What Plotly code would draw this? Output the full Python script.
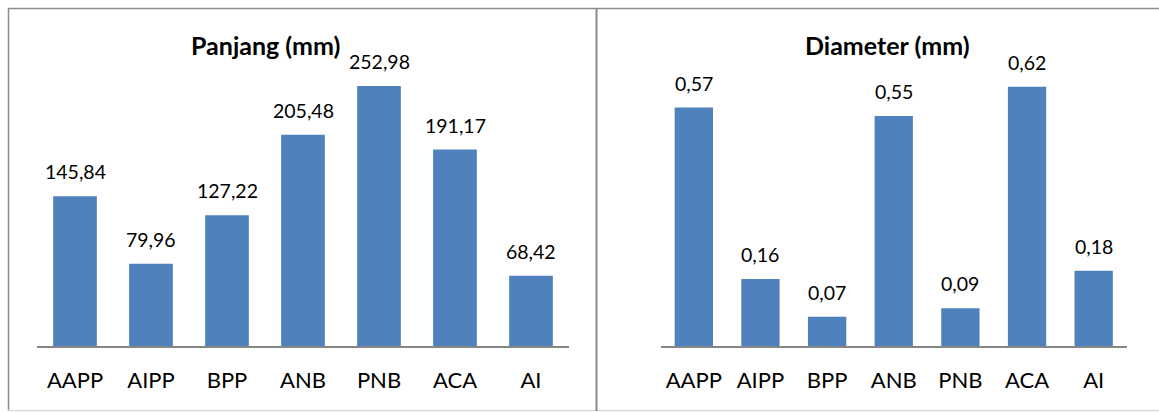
import plotly.graph_objects as go

categories = ["AAPP", "AIPP", "BPP", "ANB", "PNB", "ACA", "AI"]
panjang = [145.84, 79.96, 127.22, 205.48, 252.98, 191.17, 68.42]
diameter = [0.57, 0.16, 0.07, 0.55, 0.09, 0.62, 0.18]
panjang_labels = ["145,84", "79,96", "127,22", "205,48", "252,98", "191,17", "68,42"]
diameter_labels = ["0,57", "0,16", "0,07", "0,55", "0,09", "0,62", "0,18"]
titles = ["Panjang (mm)", "Diameter (mm)"]

W, H = 1159, 412
FONT = "Lato"
BAR = "#4F81BD"

def px_x(p):
    return p / W

def px_y(p):
    return (H - p) / H

fig = go.Figure()
fig.add_trace(go.Bar(x=categories, y=panjang, marker=dict(color=BAR, line=dict(width=0)),
                     xaxis="x", yaxis="y", hoverinfo="skip"))
fig.add_trace(go.Bar(x=categories, y=diameter, marker=dict(color=BAR, line=dict(width=0)),
                     xaxis="x2", yaxis="y2", hoverinfo="skip"))

annotations = []
for c, v, t in zip(categories, panjang, panjang_labels):
    annotations.append(dict(x=c, y=v, xref="x", yref="y", text=t, showarrow=False,
                            yanchor="bottom", yshift=11, font=dict(family=FONT, size=19.5, color="black")))
for c, v, t in zip(categories, diameter, diameter_labels):
    annotations.append(dict(x=c, y=v, xref="x2", yref="y2", text=t, showarrow=False,
                            yanchor="bottom", yshift=11, font=dict(family=FONT, size=19.5, color="black")))
annotations.append(dict(x=px_x(265), y=px_y(45), xref="paper", yref="paper", text="<b>" + titles[0] + "</b>",
                        showarrow=False, xanchor="center", yanchor="middle",
                        font=dict(family=FONT, size=25, color="black")))
annotations.append(dict(x=px_x(887), y=px_y(45), xref="paper", yref="paper", text="<b>" + titles[1] + "</b>",
                        showarrow=False, xanchor="center", yanchor="middle",
                        font=dict(family=FONT, size=25, color="black")))

axis_common = dict(showline=True, linecolor="#868686", linewidth=1.5, ticks="", showgrid=False,
                   zeroline=False, tickfont=dict(family=FONT, size=22, color="black"),
                   ticklabelstandoff=14, fixedrange=True)
yaxis_common = dict(visible=False, showgrid=False, zeroline=False, fixedrange=True)

shapes = [
    dict(type="line", xref="paper", yref="paper", x0=px_x(8), x1=1, y0=px_y(8.5), y1=px_y(8.5),
         line=dict(color="#8c8c8c", width=1.5)),
    dict(type="line", xref="paper", yref="paper", x0=px_x(8.5), x1=px_x(8.5), y0=px_y(8), y1=px_y(410.5),
         line=dict(color="#8c8c8c", width=1.5)),
    dict(type="line", xref="paper", yref="paper", x0=px_x(8), x1=1, y0=px_y(410.5), y1=px_y(410.5),
         line=dict(color="#d9d9d9", width=1.5)),
    dict(type="line", xref="paper", yref="paper", x0=px_x(596.5), x1=px_x(596.5), y0=px_y(8), y1=px_y(411),
         line=dict(color="#8c8c8c", width=2)),
]

fig.update_layout(
    width=W, height=H,
    margin=dict(l=0, r=0, t=0, b=0),
    paper_bgcolor="white", plot_bgcolor="white",
    showlegend=False, bargap=0.425,
    xaxis=dict(domain=[px_x(37), px_x(569)], anchor="y", **axis_common),
    yaxis=dict(domain=[px_y(346), px_y(37.7)], range=[0, 300], anchor="x", **yaxis_common),
    xaxis2=dict(domain=[px_x(660.5), px_x(1127)], anchor="y2", **axis_common),
    yaxis2=dict(domain=[px_y(346), px_y(53.2)], range=[0, 0.7], anchor="x2", **yaxis_common),
    annotations=annotations,
    shapes=shapes,
    font=dict(family=FONT),
)

fig.write_html("out.html", config={"displayModeBar": False})
